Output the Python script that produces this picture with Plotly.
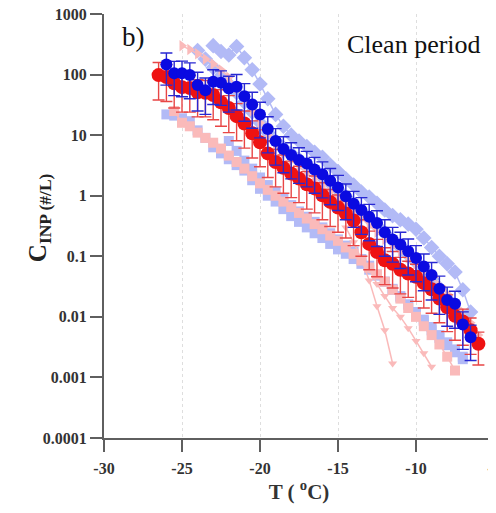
import plotly.graph_objects as go

# ------------- Data -------------

# mean of the "blue" days
blue_T = [-26.0, -25.5, -25.0, -24.5, -24.0, -23.5, -23.0, -22.5, -22.0, -21.5,
          -21.0, -20.5, -20.0, -19.5, -19.0, -18.5, -18.0, -17.5, -17.0, -16.5,
          -16.0, -15.5, -15.0, -14.5, -14.0, -13.5, -13.0, -12.5, -12.0, -11.5,
          -11.0, -10.5, -10.0, -9.5, -9.0, -8.5, -8.0, -7.5, -7.0, -6.5]
blue_C = [147, 105, 105, 98, 67, 55, 76, 73, 59, 63,
          44, 32, 22, 12.6, 8.0, 5.9, 4.7, 3.9, 3.4, 2.7,
          2.27, 1.76, 1.37, 0.98, 0.74, 0.58, 0.45, 0.355, 0.25, 0.19,
          0.156, 0.121, 0.094, 0.068, 0.049, 0.029, 0.019, 0.0165, 0.0075, 0.0046]
blue_err = [80, 60, 62, 58, 42, 33, 44, 42, 35, 37,
            27, 19, 13, 7.5, 4.8, 3.5, 2.8, 2.3, 2.0, 1.6,
            1.35, 1.05, 0.8, 0.58, 0.44, 0.35, 0.27, 0.21, 0.15, 0.11,
            0.093, 0.072, 0.056, 0.041, 0.03, 0.018, 0.012, 0.01, 0.0046, 0.0027]

# mean of the "red" days
red_T = [-26.5, -26.0, -25.5, -25.0, -24.5, -24.0, -23.5, -23.0, -22.5, -22.0,
         -21.5, -21.0, -20.5, -20.0, -19.5, -19.0, -18.5, -18.0, -17.5, -17.0,
         -16.5, -16.0, -15.5, -15.0, -14.5, -14.0, -13.5, -13.0, -12.5, -12.0,
         -11.5, -11.0, -10.5, -10.0, -9.5, -9.0, -8.5, -8.0, -7.5, -7.0,
         -6.5, -6.0]
red_C = [98, 91, 72, 62, 60, 51, 50, 46, 35, 28,
         20.6, 15.6, 10.7, 7.6, 5.0, 3.6, 2.9, 2.33, 1.92, 1.55,
         1.32, 1.02, 0.79, 0.64, 0.51, 0.39, 0.25, 0.16, 0.118, 0.086,
         0.075, 0.06, 0.052, 0.046, 0.036, 0.0285, 0.02, 0.0144, 0.0104, 0.0084,
         0.006, 0.0036]
red_err = [60, 55, 44, 38, 36, 31, 30, 28, 21, 17,
           12.5, 9.5, 6.5, 4.6, 3.0, 2.2, 1.8, 1.4, 1.15, 0.95,
           0.8, 0.62, 0.48, 0.39, 0.31, 0.24, 0.15, 0.1, 0.072, 0.052,
           0.045, 0.036, 0.031, 0.028, 0.022, 0.017, 0.012, 0.0087, 0.0063, 0.005,
           0.0036, 0.002]

# individual days, light blue
lb1_T = [-23.0, -22.5, -22.0, -21.5, -21.0, -20.5, -20.0, -19.5, -19.0, -18.5,
         -18.0, -17.5, -17.0, -16.5, -16.0, -15.5, -15.0, -14.5, -14.0, -13.5,
         -13.0, -12.5, -12.0, -11.5, -11.0, -10.5, -10.0, -9.5, -9.0, -8.5,
         -8.0, -7.5, -7.0, -6.5]
lb1_C = [300, 240, 210, 290, 190, 120, 70, 40, 22, 14,
         10, 8, 6.5, 5.2, 4.3, 3.2, 2.5, 1.9, 1.5, 1.15,
         0.95, 0.75, 0.58, 0.47, 0.4, 0.34, 0.28, 0.2, 0.14, 0.1,
         0.075, 0.055, 0.028, 0.012]

lb2_T = [-26.0, -25.5, -25.0, -24.5, -24.0, -23.5, -23.0, -22.5, -22.0, -21.5,
         -21.0, -20.5, -20.0, -19.5, -19.0, -18.5, -18.0, -17.5, -17.0, -16.5,
         -16.0, -15.5, -15.0, -14.5, -14.0, -13.5, -13.0, -12.5, -12.0, -11.5,
         -11.0, -10.5, -10.0, -9.5, -9.0, -8.5, -8.0, -7.5, -7.0]
lb2_C = [22, 21, 19, 17, 12, 9, 6.3, 5.0, 4.0, 3.2,
         2.6, 1.8, 1.3, 1.0, 0.8, 0.6, 0.46, 0.37, 0.3, 0.24,
         0.2, 0.16, 0.13, 0.11, 0.09, 0.075, 0.06, 0.048, 0.038, 0.029,
         0.022, 0.016, 0.012, 0.0085, 0.006, 0.0045, 0.0034, 0.0026, 0.002]

lb3_T = [-24.0, -23.5, -23.0, -22.5, -22.0, -21.5, -21.0, -20.5, -20.0, -19.5,
         -19.0, -18.5, -18.0, -17.5, -17.0, -16.5, -16.0, -15.5, -15.0, -14.5,
         -14.0, -13.5, -13.0, -12.5, -12.0, -11.5, -11.0, -10.5, -10.0, -9.5,
         -9.0, -8.5, -8.0, -7.5, -7.0]
lb3_C = [250, 180, 130, 95, 70, 50, 35, 24, 16, 11,
         8, 6.2, 5.0, 4.0, 3.2, 2.6, 2.0, 1.6, 1.25, 0.95,
         0.72, 0.55, 0.42, 0.32, 0.24, 0.18, 0.14, 0.105, 0.08, 0.06,
         0.042, 0.03, 0.02, 0.013, 0.008]

lb4_T = [-22.0, -21.5, -21.0, -20.5, -20.0, -19.5, -19.0, -18.5, -18.0, -17.5,
         -17.0, -16.5, -16.0, -15.5, -15.0, -14.5, -14.0, -13.5, -13.0, -12.5,
         -12.0, -11.5, -11.0, -10.5, -10.0, -9.5, -9.0, -8.5, -8.0, -7.5,
         -7.0]
lb4_C = [8, 5.5, 3.8, 2.8, 2.0, 1.5, 1.15, 0.9, 0.7, 0.55,
         0.45, 0.37, 0.3, 0.24, 0.19, 0.15, 0.12, 0.09, 0.07, 0.05,
         0.038, 0.028, 0.021, 0.016, 0.012, 0.009, 0.0068, 0.005, 0.0038, 0.0029,
         0.0022]

# individual days, pink
p1_T = [-25.0, -24.5, -24.0, -23.5, -23.0, -22.5, -22.0, -21.5, -21.0, -20.5,
        -20.0, -19.5, -19.0, -18.5, -18.0, -17.5, -17.0, -16.5, -16.0, -15.5,
        -15.0, -14.5, -14.0, -13.5, -13.0, -12.5, -12.0, -11.5, -11.0, -10.5,
        -10.0, -9.5, -9.0, -8.5, -8.0, -7.5, -7.0, -6.5, -6.0]
p1_C = [300, 260, 220, 180, 150, 120, 90, 60, 40, 25,
        16, 10, 7, 5, 3.8, 3.0, 2.4, 1.9, 1.5, 1.15,
        0.9, 0.7, 0.55, 0.42, 0.32, 0.25, 0.19, 0.15, 0.12, 0.095,
        0.075, 0.058, 0.045, 0.033, 0.024, 0.017, 0.012, 0.008, 0.005]

p2_T = [-25.5, -25.0, -24.5, -24.0, -23.5, -23.0, -22.5, -22.0, -21.5, -21.0,
        -20.5, -20.0, -19.5, -19.0, -18.5, -18.0, -17.5, -17.0, -16.5, -16.0,
        -15.5, -15.0, -14.5, -14.0, -13.5, -13.0, -12.5, -12.0, -11.5, -11.0,
        -10.5, -10.0, -9.5, -9.0, -8.5, -8.0, -7.5]
p2_C = [25, 16, 14, 11, 9, 7.5, 6, 4.6, 3.6, 2.8,
        2.1, 1.6, 1.25, 1.0, 0.8, 0.65, 0.52, 0.42, 0.34, 0.28,
        0.22, 0.18, 0.14, 0.11, 0.085, 0.065, 0.05, 0.038, 0.028, 0.02,
        0.014, 0.01, 0.007, 0.005, 0.0035, 0.0022, 0.0013]

p3_T = [-14.5, -14.0, -13.5, -13.0, -12.5, -12.0, -11.5]
p3_C = [0.3, 0.17, 0.09, 0.04, 0.015, 0.006, 0.0017]

p4_T = [-13.0, -12.5, -12.0, -11.5, -11.0, -10.5, -10.0, -9.5, -9.0]
p4_C = [0.06, 0.035, 0.022, 0.014, 0.01, 0.0065, 0.004, 0.0025, 0.0015]

y_ticks = [1000, 100, 10, 1, 0.1, 0.01, 0.001, 0.0001]
y_tick_labels = ["1000", "100", "10", "1", "0.1", "0.01", "0.001", "0.0001"]
x_ticks = [-30, -25, -20, -15, -10, -5]

# ------------- Styling -------------

LIGHT_BLUE = "rgb(178,186,246)"
PINK = "rgb(250,186,186)"
BLUE = "rgb(10,10,225)"
RED = "rgb(238,18,18)"
SERIF = "Liberation Serif"
AXIS_GREY = "rgb(95,95,95)"

fig = go.Figure()

light_days = [
    (lb2_T, lb2_C, LIGHT_BLUE, "square", 10),
    (lb4_T, lb4_C, LIGHT_BLUE, "square", 10),
    (p2_T, p2_C, PINK, "square", 10),
    (lb3_T, lb3_C, LIGHT_BLUE, "diamond", 12),
    (p1_T, p1_C, PINK, "triangle-right", 10),
    (lb1_T, lb1_C, LIGHT_BLUE, "diamond", 12),
    (p3_T, p3_C, PINK, "triangle-down", 8),
    (p4_T, p4_C, PINK, "triangle-down", 8),
]
for t, c, col, sym, size in light_days:
    fig.add_trace(go.Scatter(
        x=t, y=c, mode="lines+markers",
        line=dict(color=col, width=1.5),
        marker=dict(color=col, symbol=sym, size=size),
        showlegend=False,
    ))

fig.add_trace(go.Scatter(
    x=red_T, y=red_C, mode="markers",
    marker=dict(color=RED, size=14),
    error_y=dict(type="data", array=red_err, symmetric=True,
                 color="rgb(232,70,70)", thickness=1.4, width=6),
    showlegend=False,
))
fig.add_trace(go.Scatter(
    x=blue_T, y=blue_C, mode="markers",
    marker=dict(color=BLUE, size=12),
    error_y=dict(type="data", array=blue_err, symmetric=True,
                 color="rgb(40,40,210)", thickness=1.4, width=6),
    showlegend=False,
))

fig.add_annotation(x=0.041, y=0.946, xref="paper", yref="paper", text="b)",
                   showarrow=False, xanchor="left", yanchor="middle",
                   font=dict(family=SERIF, size=27, color="#111"))
fig.add_annotation(x=0.972, y=0.927, xref="paper", yref="paper", text="Clean period",
                   showarrow=False, xanchor="right", yanchor="middle",
                   font=dict(family=SERIF, size=26, color="#111"))
# y-axis title, placed by hand so it can sit over the tick-label column
fig.add_annotation(x=-0.165, y=0.52, xref="paper", yref="paper",
                   text="<b>C<sub>INP (#/L)</sub></b>", textangle=-90,
                   showarrow=False, xanchor="center", yanchor="middle",
                   font=dict(family=SERIF, size=25, color="#222"))

fig.update_xaxes(
    range=[-30, -5], tickvals=x_ticks, ticktext=[f"<b>{v}</b>" for v in x_ticks],
    automargin=False, ticklabeloverflow="allow",
    showgrid=True, gridcolor="rgb(222,222,222)", griddash="dot", gridwidth=1,
    showline=True, linecolor=AXIS_GREY, linewidth=2,
    ticks="outside", ticklen=12, tickwidth=2, tickcolor=AXIS_GREY,
    ticklabelstandoff=3,
    zeroline=False,
    tickfont=dict(family=SERIF, size=16, color="#333"),
    title=dict(text="<b>T ( <sup>o</sup>C)</b>", standoff=4,
               font=dict(family=SERIF, size=21, color="#333")),
)
fig.update_yaxes(
    type="log", range=[-4, 3], tickvals=y_ticks,
    ticktext=[f"<b>{s}</b>" for s in y_tick_labels],
    automargin=False, ticklabeloverflow="allow",
    showgrid=False,
    showline=True, linecolor=AXIS_GREY, linewidth=2,
    ticks="outside", ticklen=12, tickwidth=2, tickcolor=AXIS_GREY,
    ticklabelstandoff=0,
    zeroline=False,
    tickfont=dict(family=SERIF, size=16, color="#333"),
)

# the page body adds an 8px margin, so the figure is 8px smaller than the window
fig.update_layout(
    width=488, height=505,
    margin=dict(l=96, r=2, t=6, b=75),
    plot_bgcolor="white", paper_bgcolor="white",
    showlegend=False,
)

fig.write_html("out.html")
